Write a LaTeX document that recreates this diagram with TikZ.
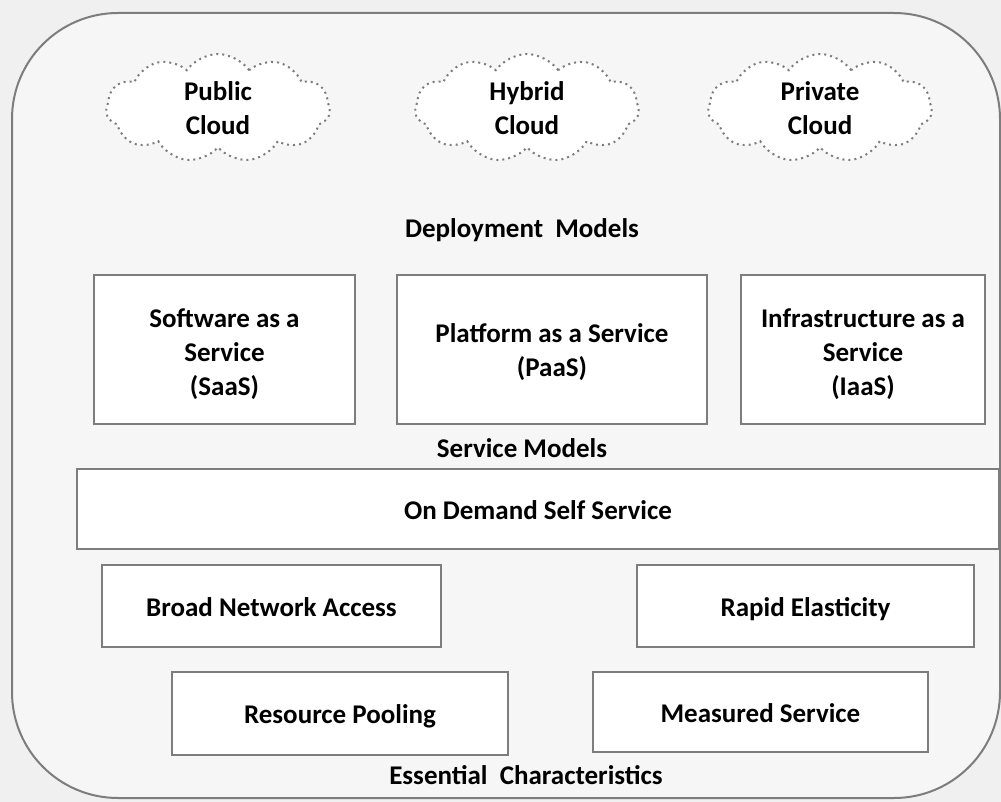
\documentclass[tikz,border=0pt]{standalone}
\usepackage{fontspec}
\setmainfont{Carlito}
\usepackage{xcolor}
\usepackage{tikz}
\usetikzlibrary{shapes.symbols}
\definecolor{linegray}{RGB}{125,125,125}
\definecolor{paper}{RGB}{240,240,240}
\tikzstyle{every node}=[font=\bfseries\fontsize{13.5}{17}\selectfont,inner sep=0pt]
\tikzstyle{modelbox}=[draw=linegray,line width=1pt,fill=white,minimum height=74.5pt]
\tikzstyle{modeltext}=[align=center]
\tikzstyle{charbox}=[draw=linegray,line width=1pt,fill=white,text height=11pt,text depth=1pt]
\tikzstyle{cloudnode}=[cloud,cloud puffs=11,cloud puff arc=110,aspect=2.1,draw=linegray,dotted,line width=1pt,fill=white,align=center,minimum width=112pt,minimum height=54pt]

\begin{document}
\begin{tikzpicture}[x=0.5pt,y=-0.5pt]
	\useasboundingbox[fill=paper] (0,0) rectangle (1001,802);
	\draw[linegray,line width=1pt,fill=paper!60!white,rounded corners=53pt] (12,13) rectangle (1000,798);
	\node[cloudnode] (public) at (218,108) {Public\\Cloud};
	\node[cloudnode] (hybrid) at (527,108) {Hybrid\\Cloud};
	\node[cloudnode] (private) at (820,108) {Private\\Cloud};
	\node (deploy) at (522,230) {Deployment\ \ Models};
	\node[modelbox,minimum width=130.5pt] (saas) at (224.5,349.5) {};
	\node[modelbox,minimum width=155pt] (paas) at (552,349.5) {};
	\node[modelbox,minimum width=122pt] (iaas) at (863,349.5) {};
	\node[modeltext] (saastext) at ([yshift=-2.5pt]saas.center) {Software as a\\Service\\(SaaS)};
	\node[modeltext] (paastext) at ([yshift=-1.5pt]paas.center) {Platform as a Service\\(PaaS)};
	\node[modeltext] (iaastext) at ([yshift=-2.5pt]iaas.center) {Infrastructure as a\\Service\\(IaaS)};
	\node (service) at (522,448) {Service Models};
	\node[charbox,minimum width=461pt,minimum height=40pt] (ondemand) at (538,509) {On Demand Self Service};
	\node[charbox,minimum width=169.5pt,minimum height=41pt] (broad) at (271.5,606) {Broad Network Access};
	\node[charbox,minimum width=168.5pt,minimum height=41pt] (rapid) at (805.5,606) {Rapid Elasticity};
	\node[charbox,minimum width=168pt,minimum height=41.5pt] (pooling) at (340,713.5) {Resource Pooling};
	\node[charbox,minimum width=167.5pt,minimum height=40pt] (measured) at (760.5,712) {Measured Service};
	\node (essential) at (526,775) {Essential\ \ Characteristics};
\end{tikzpicture}
\end{document}
